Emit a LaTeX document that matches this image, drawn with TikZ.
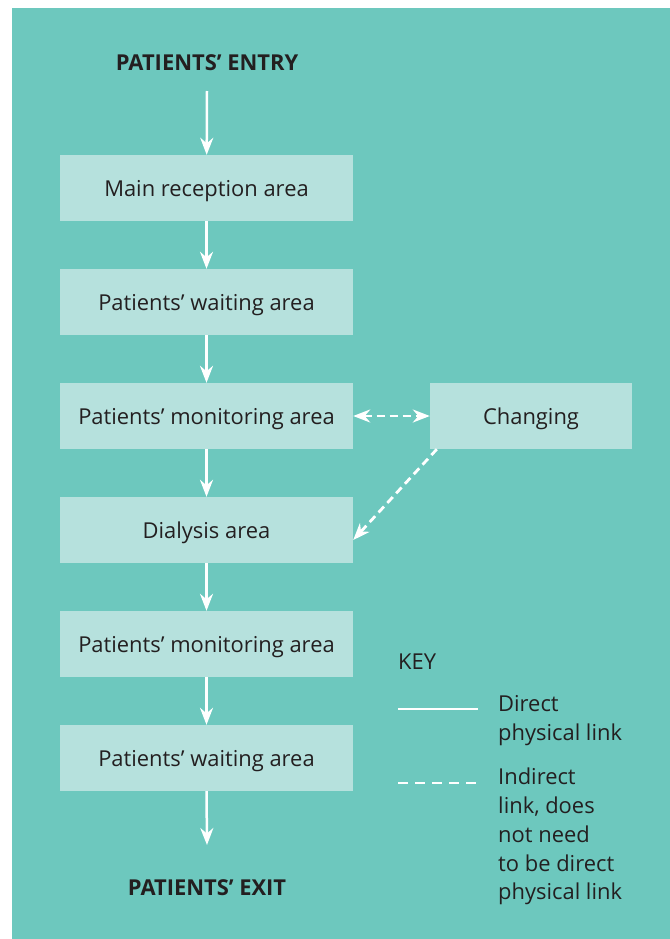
\documentclass[tikz,border=0pt]{standalone}
\usepackage{fontspec}
\setmainfont{Open Sans}
\usetikzlibrary{arrows.meta}
\definecolor{tealbg}{HTML}{6DC8BE}
\definecolor{boxfill}{HTML}{B6E1DD}
\definecolor{ink}{HTML}{231F20}
\begin{document}
\begin{tikzpicture}[x=1bp,y=-1bp,
    area/.style={fill=boxfill,minimum width=293bp,minimum height=66bp,inner sep=0pt,
      text height=19bp,text depth=3bp,text=ink,font=\fontsize{22}{26}\selectfont},
    head/.style={text=ink,font=\bfseries\fontsize{22}{26}\selectfont},
    link/.style={white,line width=2.5bp,-{Stealth[length=17bp,width=13bp]}},
    keytext/.style={text=ink,anchor=north west,align=left,inner sep=0pt,
      font=\fontsize{22}{29}\selectfont}]
  \useasboundingbox (0,0) rectangle (670,939);
  \fill[tealbg] (12,8) rectangle (670,939);
  \draw
    (207,63) node[head] (entry){PATIENTS’ ENTRY}
    (206.5,188) node[area] (reception){Main reception area}
    (206.5,302) node[area] (wait1){Patients’ waiting area}
    (206.5,416) node[area] (monitor1){Patients’ monitoring area}
    (531,416) node[area,minimum width=202bp] (changing){Changing}
    (206.5,530) node[area] (dialysis){Dialysis area}
    (206.5,644) node[area] (monitor2){Patients’ monitoring area}
    (206.5,758) node[area] (wait2){Patients’ waiting area}
    (207,888) node[head] (exit){PATIENTS’ EXIT};
  \coordinate (entryend) at (207,91);
  \coordinate (exitend) at (207,845);
  \begin{scope}[link]
    \draw (entryend) to (reception);
    \draw (reception) to (wait1);
    \draw (wait1) to (monitor1);
    \draw (monitor1) to (dialysis);
    \draw (dialysis) to (monitor2);
    \draw (monitor2) to (wait2);
    \draw (wait2.south) to (exitend);
  \end{scope}
  \begin{scope}[link,line width=2.8bp,dash pattern=on 8bp off 5bp]
    \draw[{Stealth[length=17bp,width=13bp]}-{Stealth[length=17bp,width=13bp]}]
      (monitor1) to (changing);
    \draw ([xshift=7bp]changing.south west) to ([yshift=-10bp]dialysis.east);
  \end{scope}
  % key
  \node[text=ink,anchor=base west,inner sep=0pt,font=\fontsize{22}{26}\selectfont]
    (key) at (398,669) {KEY};
  \coordinate (solidA) at (398,709);
  \coordinate (solidB) at (478,709);
  \coordinate (dashA) at (398,783);
  \coordinate (dashB) at (478,783);
  \draw[white,line width=2.5bp] (solidA) to (solidB);
  \draw[white,line width=2.5bp,dash pattern=on 10bp off 7bp] (dashA) to (dashB);
  \node[keytext] (direct) at (498,695.5) {Direct\\physical link};
  \node[keytext] (indirect) at (498,767.5)
    {Indirect\\link, does\\not need\\to be direct\\physical link};
\end{tikzpicture}
\end{document}
